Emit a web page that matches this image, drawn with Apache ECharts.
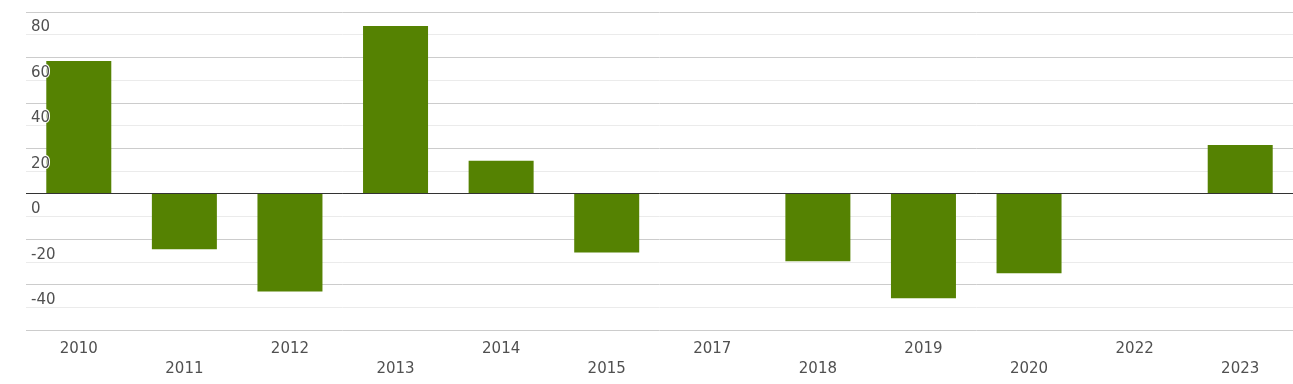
<!DOCTYPE html>
<html><head><meta charset="utf-8">
<script src="https://cdn.jsdelivr.net/npm/echarts@6/dist/echarts.min.js"></script>
<style>html,body{margin:0;padding:0;background:#fff}#c{width:1293px;height:384px}</style>
</head><body><div id="c"></div>
<script>
var categories = ['2010','2011','2012','2013','2014','2015','2017','2018','2019','2020','2022','2023'];
var values = [58.4, -24.5, -43, 73.8, 14.5, -25.9, null, -29.7, -46, -35, null, 21.5];
var yMin = -60, yMax = 80, yStep = 20;

var chart = echarts.init(document.getElementById('c'), null, {renderer:'canvas'});
var font = 'DejaVu Sans';
chart.setOption({
  animation:false,
  grid:{left:26,right:0,top:12,bottom:54},
  xAxis:{type:'category',data:categories,
    axisLine:{show:false},axisTick:{show:false},
    axisLabel:{interval:0,margin:9,color:'#505050',fontFamily:font,fontSize:15,lineHeight:20,verticalAlign:'top',
      formatter:function(v,i){return (i%2===1?'\n':'')+v;}}},
  yAxis:[{type:'value',min:yMin,max:yMax,interval:yStep,z:0,
    axisLine:{show:false},axisTick:{show:false},axisLabel:{show:false},
    splitLine:{lineStyle:{color:'#cccccc',width:1}},
    minorTick:{show:false,splitNumber:2},
    minorSplitLine:{show:true,lineStyle:{color:'#ebebeb',width:1}}},
   {type:'value',position:'left',min:yMin,max:yMax,interval:yStep,z:10,
    axisLine:{show:false},axisTick:{show:false},splitLine:{show:false},
    axisLabel:{inside:true,margin:5,color:'#505050',fontFamily:font,fontSize:15,verticalAlign:'top',
      lineHeight:15,padding:[8,0,0,0],textBorderColor:'#fff',textBorderWidth:2,
      showMaxLabel:true,
      formatter:function(v){return v===yMin?'':String(v);}}}],
  series:[{type:'bar',data:values,barWidth:65,yAxisIndex:0,
    itemStyle:{color:'#558202'},
    markLine:{silent:true,symbol:'none',label:{show:false},
      lineStyle:{color:'#333',width:1,type:'solid'},data:[{yAxis:0}]}}]
});
</script></body></html>
